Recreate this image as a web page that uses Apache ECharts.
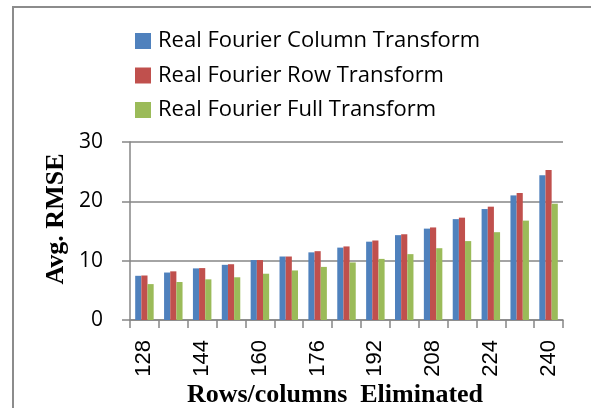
<!DOCTYPE html>
<html>
<head>
<meta charset="utf-8">
<script src="https://cdn.jsdelivr.net/npm/echarts@6/dist/echarts.min.js"></script>
<style>html,body{margin:0;padding:0;background:#fff}#c{width:591px;height:408px}</style>
</head>
<body>
<div id="c"></div>
<script>
var categories = ['128','136','144','152','160','168','176','184','192','200','208','216','224','232','240'];
var columnTransform = [7.45, 8.0, 8.7, 9.3, 10.1, 10.7, 11.4, 12.2, 13.2, 14.3, 15.4, 17.0, 18.7, 21.0, 24.4];
var rowTransform = [7.5, 8.2, 8.75, 9.4, 10.1, 10.7, 11.6, 12.4, 13.4, 14.45, 15.6, 17.25, 19.1, 21.4, 25.3];
var fullTransform = [6.05, 6.4, 6.85, 7.2, 7.8, 8.35, 8.95, 9.7, 10.3, 11.1, 12.1, 13.3, 14.8, 16.75, 19.6];
var seriesNames = ['Real Fourier Column Transform', 'Real Fourier Row Transform', 'Real Fourier Full Transform'];
var colors = ['#4F81BD', '#C0504D', '#9BBB59'];

var chart = echarts.init(document.getElementById('c'), null, {renderer: 'canvas'});
var axisGray = '#868686';
chart.setOption({
  animation: false,
  color: colors,
  grid: {left: 130, right: 28, top: 142, bottom: 88, containLabel: false},
  legend: {
    orient: 'vertical', left: 130, top: 25,
    itemWidth: 16, itemHeight: 16, itemGap: 12.5, icon: 'rect',
    textStyle: {fontFamily: 'Open Sans', fontSize: 22, color: '#000', padding: [0,0,0,2]},
    data: seriesNames
  },
  xAxis: {
    type: 'category', data: categories,
    axisLine: {lineStyle: {color: axisGray, width: 1.5}},
    axisTick: {show: true, interval: 0, length: 8, lineStyle: {color: axisGray, width: 1.5}},
    axisLabel: {interval: 1, rotate: 90, margin: 20, fontFamily: 'Liberation Sans', fontSize: 22, color: '#000'}
  },
  yAxis: {
    type: 'value', min: 0, max: 30, interval: 10,
    axisLine: {show: true, lineStyle: {color: axisGray, width: 1.5}},
    axisTick: {show: true, length: 8, lineStyle: {color: axisGray, width: 1.5}},
    splitLine: {lineStyle: {color: axisGray, width: 1.5}},
    axisLabel: {margin: 27, fontFamily: 'Open Sans', fontSize: 21, color: '#000'}
  },
  series: [
    {name: seriesNames[0], type: 'bar', data: columnTransform, barGap: '0%', barCategoryGap: '36%'},
    {name: seriesNames[1], type: 'bar', data: rowTransform, barGap: '0%', barCategoryGap: '36%'},
    {name: seriesNames[2], type: 'bar', data: fullTransform, barGap: '0%', barCategoryGap: '36%'}
  ],
  graphic: [
    {type: 'rect', shape: {x: 13, y: 7, width: 700, height: 600}, style: {fill: 'none', stroke: '#8c8c8c', lineWidth: 2}, silent: true},
    {type: 'text', x: 56, y: 219, rotation: Math.PI / 2,
      style: {text: 'Avg. RMSE', font: 'bold 26px "Liberation Serif"', fill: '#000', textAlign: 'center', textVerticalAlign: 'middle'}},
    {type: 'text', x: 335, y: 395,
      style: {text: 'Rows/columns  Eliminated', font: 'bold 26px "Liberation Serif"', fill: '#000', textAlign: 'center', textVerticalAlign: 'middle'}}
  ]
});
</script>
</body>
</html>
